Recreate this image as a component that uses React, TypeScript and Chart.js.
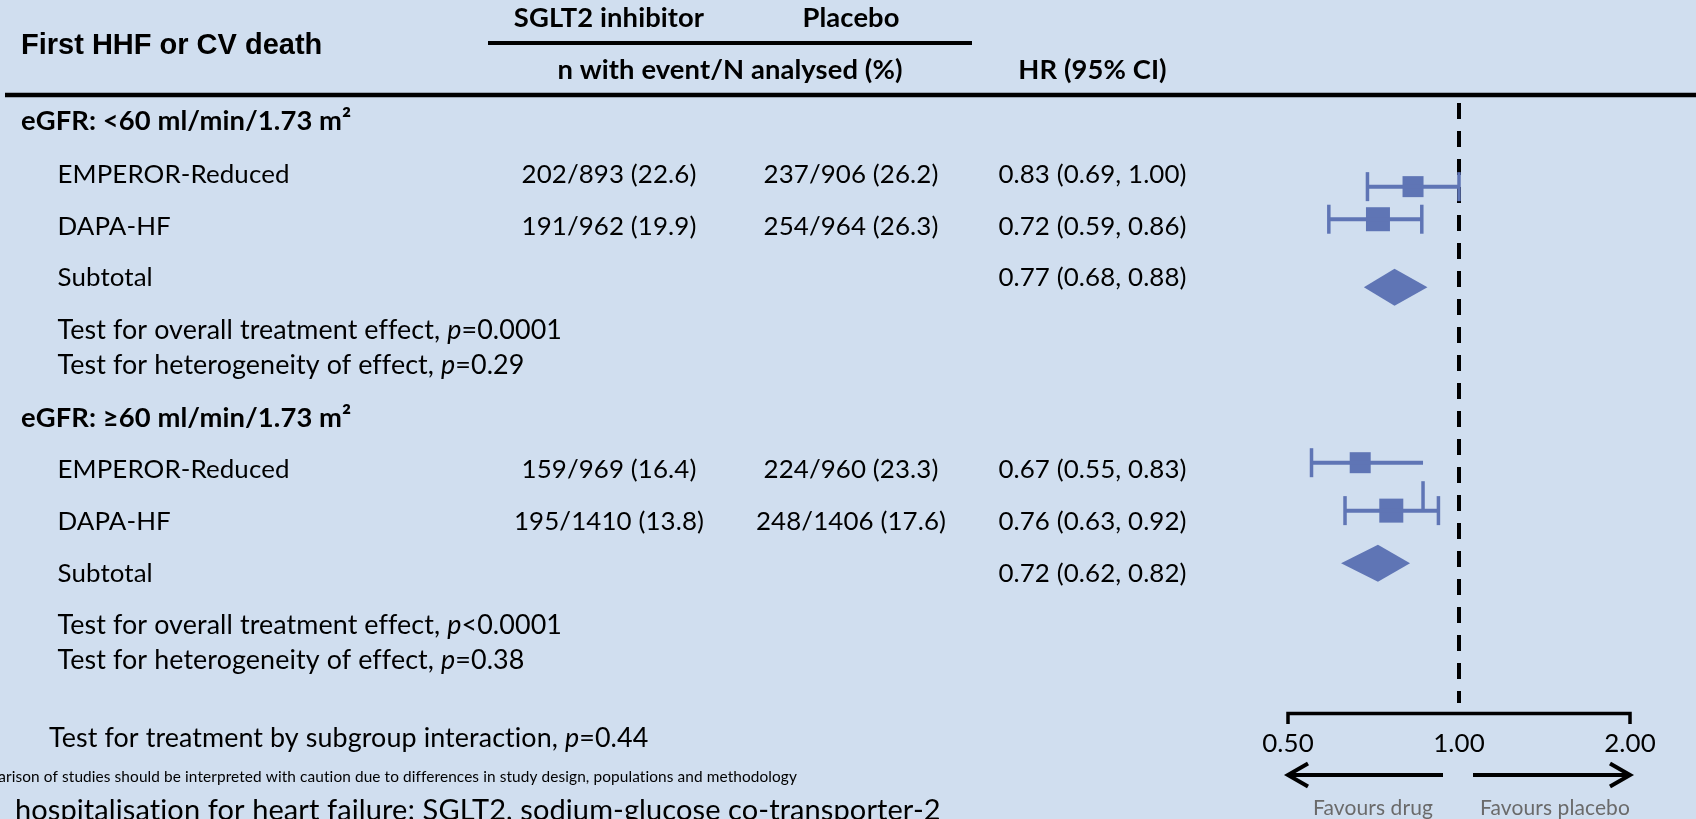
import React, { useEffect, useRef } from 'react';
import { Chart, registerables } from 'chart.js';

Chart.register(...registerables);

// ---------------- data ----------------
const outcomeTitle = 'First HHF or CV death';
const armLabels = ['SGLT2 inhibitor', 'Placebo'];
const countHeader = 'n with event/N analysed (%)';
const hrHeader = 'HR (95% CI)';
const subgroupLabels = ['eGFR: <60 ml/min/1.73 m²', 'eGFR: ≥60 ml/min/1.73 m²'];
const rowLabels = ['EMPEROR-Reduced', 'DAPA-HF', 'Subtotal', 'EMPEROR-Reduced', 'DAPA-HF', 'Subtotal'];
const rowKind = ['study', 'study', 'subtotal', 'study', 'study', 'subtotal'];
const sglt2Counts = ['202/893 (22.6)', '191/962 (19.9)', '', '159/969 (16.4)', '195/1410 (13.8)', ''];
const placeboCounts = ['237/906 (26.2)', '254/964 (26.3)', '', '224/960 (23.3)', '248/1406 (17.6)', ''];
const hrValues = [0.83, 0.72, 0.77, 0.67, 0.76, 0.72];
const ciLower = [0.69, 0.59, 0.68, 0.55, 0.63, 0.62];
const ciUpper = [1.0, 0.86, 0.88, 0.83, 0.92, 0.82];
const overallP = ['=0.0001', '<0.0001'];
const heterogeneityP = ['=0.29', '=0.38'];
const interactionP = '=0.44';
const tickValues = [0.5, 1, 2];
const tickLabels = ['0.50', '1.00', '2.00'];
const directionLabels = ['Favours drug', 'Favours placebo'];
const footnote =
  'Comparison of studies should be interpreted with caution due to differences in study design, populations and methodology';
const footnoteVisible =
  'arison of studies should be interpreted with caution due to differences in study design, populations and methodology';
const abbreviations = 'hospitalisation for heart failure; SGLT2, sodium-glucose co-transporter-2';

// ---------------- layout / style ----------------
const W = 1696;
const H = 819;
const BG = '#D0DEEF';
const BLUE = '#5F75B5';
const INK = '#000000';
const GREY = '#6A6A6A';
const ARIAL = '"Liberation Sans", Arial, sans-serif';
const BODY = 'Lato, "Noto Sans", sans-serif';
const SPACING = '0.1px'; // non-zero spacing suppresses Lato's ligatures
const AXIS_LEFT = 1288; // pixel of x = 0.5
const AXIS_RIGHT = 1630; // pixel of x = 2
const rowBase = [182.5, 234.5, 286, 478, 530, 582];
const markY = [177, 211, 282, 465, 515, 570];
const squareSide = [21, 24, 0, 21, 24, 0];
const capDrop = [0, 0, 0, 33, 0, 0];
const whiskerExtra = [0, 0, 0, 10, 0, 0];
const groupBase = [130, 427];
const testBase = [
  [339, 373.5],
  [634, 668.5],
];

function setSpacing(ctx: any, v: string) {
  if ('letterSpacing' in ctx) ctx.letterSpacing = v;
}

function fit(ctx: CanvasRenderingContext2D, font: (s: number) => string, text: string, target: number, spacing: string) {
  let size = 28;
  setSpacing(ctx, spacing);
  for (let k = 0; k < 4; k++) {
    ctx.font = font(size);
    const w = ctx.measureText(text).width;
    size = (size * target) / w;
  }
  setSpacing(ctx, '0px');
  return size;
}

export default function App() {
  const ref = useRef<HTMLCanvasElement>(null);

  useEffect(() => {
    const canvas = ref.current!;
    const mctx = canvas.getContext('2d')!;
    const bodyFont = (s: number) => `400 ${s}px ${BODY}`;
    const boldFont = (s: number) => `700 ${s}px ${BODY}`;
    const bodySize = fit(mctx, bodyFont, 'EMPEROR-Reduced', 232, SPACING);
    const testSize = fit(mctx, bodyFont, 'Test for heterogeneity of effect, p=0.29', 468, SPACING);
    const boldSize = fit(mctx, boldFont, countHeader, 345, SPACING);
    const footSize = fit(mctx, bodyFont, footnoteVisible, 799, SPACING);
    const abbrSize = fit(mctx, bodyFont, abbreviations, 926, SPACING);
    const favSize = fit(mctx, bodyFont, directionLabels[0], 120, SPACING);

    const text = (
      ctx: CanvasRenderingContext2D,
      s: string,
      x: number,
      y: number,
      font: string,
      align: CanvasTextAlign = 'left',
      color = INK
    ) => {
      ctx.font = font;
      setSpacing(ctx, font.includes(BODY) ? SPACING : '0px');
      ctx.fillStyle = color;
      ctx.textAlign = align;
      ctx.textBaseline = 'alphabetic';
      ctx.fillText(s, x, y);
    };

    const rich = (ctx: CanvasRenderingContext2D, parts: [string, boolean][], x: number, y: number, size: number) => {
      let cx = x;
      ctx.fillStyle = INK;
      ctx.textAlign = 'left';
      ctx.textBaseline = 'alphabetic';
      setSpacing(ctx, SPACING);
      parts.forEach(([t, it]) => {
        ctx.font = `${it ? 'italic ' : ''}400 ${size}px ${BODY}`;
        ctx.fillText(t, cx, y);
        cx += ctx.measureText(t).width;
      });
    };

    const line = (ctx: CanvasRenderingContext2D, x0: number, y0: number, x1: number, y1: number, w: number, color: string) => {
      ctx.beginPath();
      ctx.moveTo(x0, y0);
      ctx.lineTo(x1, y1);
      ctx.lineWidth = w;
      ctx.strokeStyle = color;
      ctx.stroke();
    };

    const forest = {
      id: 'forest',
      beforeDraw(chart: any) {
        const { ctx } = chart;
        ctx.save();
        ctx.fillStyle = BG;
        ctx.fillRect(0, 0, W, H);
        ctx.restore();
      },
      beforeDatasetsDraw(chart: any) {
        const { ctx } = chart;
        const x = chart.scales.x;
        ctx.save();
        ctx.lineCap = 'butt';

        // header
        text(ctx, outcomeTitle, 21, 54, `700 29px ${ARIAL}`);
        text(ctx, armLabels[0], 609, 27, boldFont(boldSize), 'center');
        text(ctx, armLabels[1], 851, 27, boldFont(boldSize), 'center');
        line(ctx, 488, 43, 972, 43, 4, INK);
        text(ctx, countHeader, 730, 78.5, boldFont(boldSize), 'center');
        text(ctx, hrHeader, 1092.5, 78.5, boldFont(boldSize), 'center');
        line(ctx, 5, 95, W, 95, 4.5, INK);

        // subgroup headers and tests
        subgroupLabels.forEach((g, gi) => {
          text(ctx, g, 21, groupBase[gi], boldFont(boldSize));
          rich(ctx, [['Test for overall treatment effect, ', false], ['p', true], [overallP[gi], false]], 57.5, testBase[gi][0], testSize);
          rich(ctx, [['Test for heterogeneity of effect, ', false], ['p', true], [heterogeneityP[gi], false]], 57.5, testBase[gi][1], testSize);
        });

        // rows
        rowLabels.forEach((lab, i) => {
          const yb = rowBase[i];
          text(ctx, lab, 57.5, yb, bodyFont(bodySize));
          if (sglt2Counts[i]) text(ctx, sglt2Counts[i], 609, yb, bodyFont(bodySize), 'center');
          if (placeboCounts[i]) text(ctx, placeboCounts[i], 851, yb, bodyFont(bodySize), 'center');
          const hrText = `${hrValues[i].toFixed(2)} (${ciLower[i].toFixed(2)}, ${ciUpper[i].toFixed(2)})`;
          text(ctx, hrText, 1092.5, yb, bodyFont(bodySize), 'center');
        });

        rich(ctx, [['Test for treatment by subgroup interaction, ', false], ['p', true], [interactionP, false]], 49, 747, testSize);
        text(ctx, footnote, 797, 782, bodyFont(footSize), 'right');
        text(ctx, abbreviations, 15, 820, bodyFont(abbrSize));

        // reference line at HR = 1
        const p1 = x.getPixelForValue(1);
        ctx.setLineDash([16, 12]);
        line(ctx, p1, 103, p1, 703, 4, INK);
        ctx.setLineDash([]);

        // axis bracket
        const pa = x.getPixelForValue(tickValues[0]);
        const pb = x.getPixelForValue(tickValues[tickValues.length - 1]);
        ctx.beginPath();
        ctx.moveTo(pa, 724);
        ctx.lineTo(pa, 713.5);
        ctx.lineTo(pb, 713.5);
        ctx.lineTo(pb, 724);
        ctx.lineWidth = 3.5;
        ctx.strokeStyle = INK;
        ctx.lineJoin = 'miter';
        ctx.stroke();
        tickValues.forEach((v, i) => {
          text(ctx, tickLabels[i], x.getPixelForValue(v), 752, bodyFont(bodySize), 'center');
        });

        // direction arrows
        const ay = 775;
        const head = (tx: number, dir: number) => {
          ctx.beginPath();
          ctx.moveTo(tx - dir * 20, ay - 11.5);
          ctx.lineTo(tx, ay);
          ctx.lineTo(tx - dir * 20, ay + 11.5);
          ctx.lineWidth = 4;
          ctx.strokeStyle = INK;
          ctx.stroke();
        };
        line(ctx, pa + 2, ay, p1 - 16, ay, 4, INK);
        head(pa, -1);
        line(ctx, p1 + 14, ay, pb - 2, ay, 4, INK);
        head(pb, 1);
        text(ctx, directionLabels[0], p1 - 26, 815, bodyFont(favSize), 'right', GREY);
        text(ctx, directionLabels[1], p1 + 21, 815, bodyFont(favSize), 'left', GREY);
        ctx.restore();
      },
      afterDatasetsDraw(chart: any) {
        const { ctx } = chart;
        const x = chart.scales.x;
        const y = chart.scales.y;
        ctx.save();
        ctx.lineCap = 'butt';
        hrValues.forEach((hr, i) => {
          const yc = y.getPixelForValue(markY[i]);
          const xl = x.getPixelForValue(ciLower[i]);
          const xh = x.getPixelForValue(ciUpper[i]);
          const xm = x.getPixelForValue(hr);
          if (rowKind[i] === 'study') {
            const xr = xh + whiskerExtra[i];
            line(ctx, xl, yc, xr, yc, 4, BLUE);
            line(ctx, xl, yc - 14.5, xl, yc + 14.5, 3.5, BLUE);
            line(ctx, xr, yc - 14.5 + capDrop[i], xr, yc + 14.5 + capDrop[i], 3.5, BLUE);
          } else {
            ctx.beginPath();
            ctx.moveTo(xl, yc);
            ctx.lineTo(xm, yc - 18.5);
            ctx.lineTo(xh, yc);
            ctx.lineTo(xm, yc + 18.5);
            ctx.closePath();
            ctx.fillStyle = BLUE;
            ctx.fill();
          }
        });
        ctx.restore();
      },
    };

    const studyIdx = rowKind.map((k, i) => (k === 'study' ? i : -1)).filter((i) => i >= 0);
    const subIdx = rowKind.map((k, i) => (k === 'subtotal' ? i : -1)).filter((i) => i >= 0);

    const chart = new Chart(canvas, {
      type: 'scatter',
      data: {
        datasets: [
          {
            label: 'Study HR',
            data: studyIdx.map((i) => ({ x: hrValues[i], y: markY[i] })),
            pointStyle: 'rect',
            pointRadius: studyIdx.map((i) => squareSide[i] / Math.SQRT2),
            backgroundColor: BLUE,
            borderWidth: 0,
          },
          {
            label: 'Subtotal HR',
            data: subIdx.map((i) => ({ x: hrValues[i], y: markY[i] })),
            pointRadius: 0,
            backgroundColor: BLUE,
            borderWidth: 0,
          },
        ],
      },
      options: {
        animation: false,
        responsive: false,
        devicePixelRatio: 1,
        events: [],
        layout: { padding: { left: AXIS_LEFT, right: W - AXIS_RIGHT, top: 0, bottom: 0 } },
        plugins: { legend: { display: false }, tooltip: { enabled: false } },
        scales: {
          x: { type: 'logarithmic', min: tickValues[0], max: tickValues[tickValues.length - 1], bounds: 'data', display: false },
          y: { type: 'linear', min: 0, max: H, reverse: true, display: false },
        },
      },
      plugins: [forest],
    } as any);

    return () => chart.destroy();
  }, []);

  return (
    <div style={{ position: 'fixed', left: 0, top: 0, width: W, height: H, background: BG, overflow: 'hidden' }}>
      <canvas ref={ref} width={W} height={H} style={{ display: 'block', width: W, height: H }} />
    </div>
  );
}
